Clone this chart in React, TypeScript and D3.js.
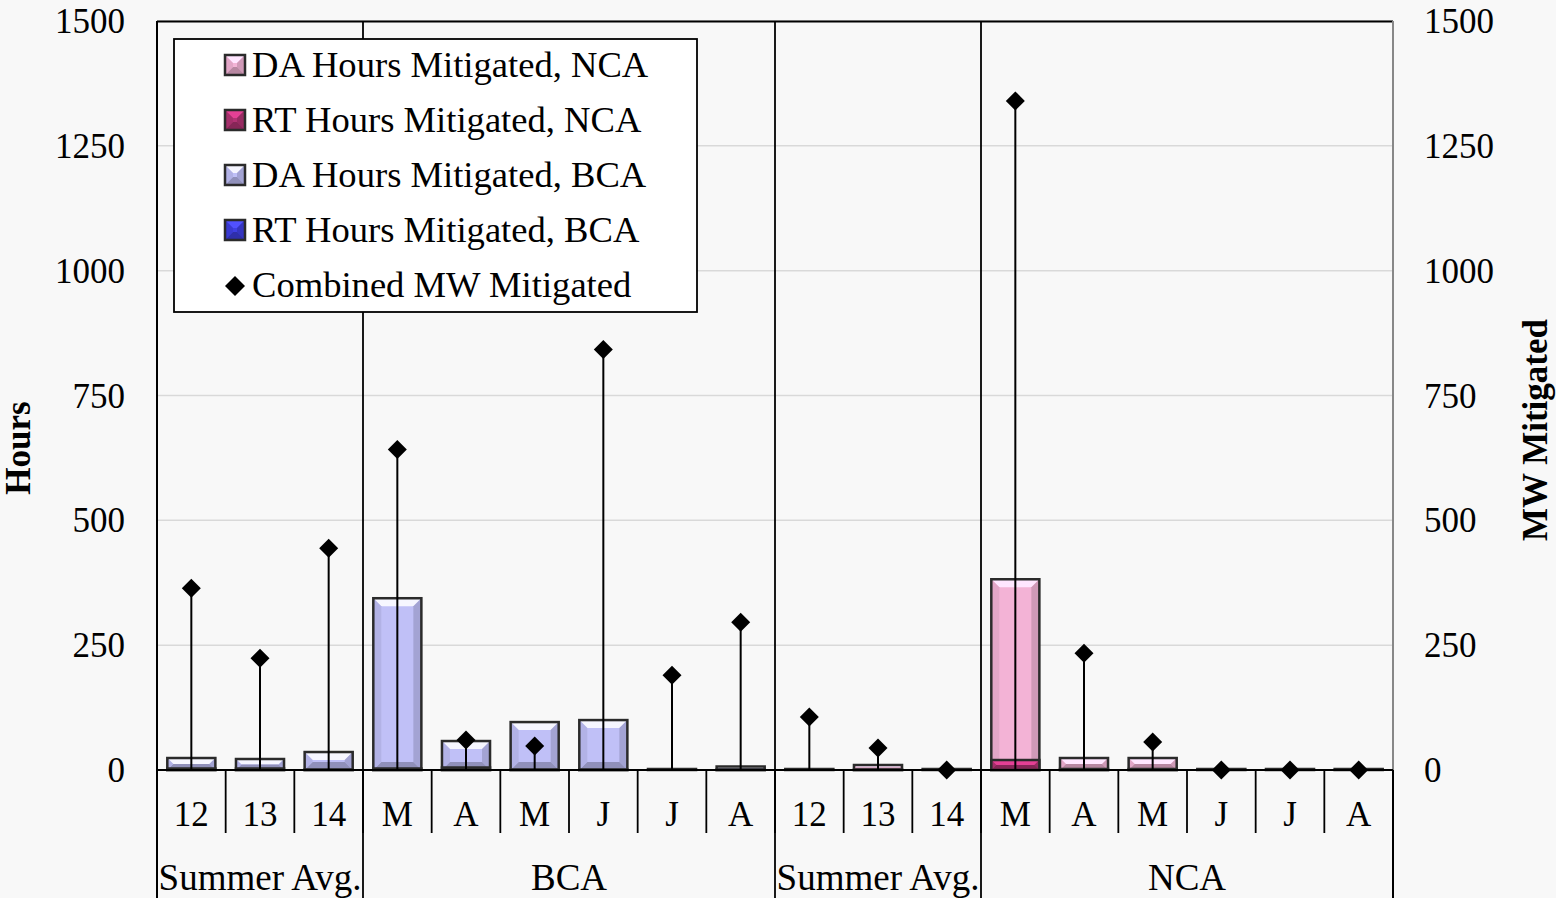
import React from "react";
import * as d3 from "d3";

// Category labels along the lower axis (two groups of three summer averages, two of six months)
const categories = ["12", "13", "14", "M", "A", "M", "J", "J", "A", "12", "13", "14", "M", "A", "M", "J", "J", "A"];
const groups = [
  { label: "Summer Avg.", span: 3 },
  { label: "BCA", span: 6 },
  { label: "Summer Avg.", span: 3 },
  { label: "NCA", span: 6 },
];

// Hours mitigated (left axis)
const daNCA = [0, 0, 0, 0, 0, 0, 0, 0, 0, 2, 10, 2, 382, 24, 24, 2, 2, 2];
const rtNCA = [0, 0, 0, 0, 0, 0, 0, 0, 0, 0, 1, 0, 20, 2, 2, 0, 0, 0];
const daBCA = [24, 22, 36, 344, 58, 96, 100, 2, 7, 0, 0, 0, 0, 0, 0, 0, 0, 0];
const rtBCA = [3, 3, 1, 3, 5, 1, 1, 0, 1, 0, 0, 0, 0, 0, 0, 0, 0, 0];

// Combined MW mitigated (right axis)
const mwMitigated = [364, 224, 444, 642, 60, 48, 842, 190, 296, 106, 44, 0, 1340, 234, 56, 0, 0, 0];

const hourTicks = [0, 250, 500, 750, 1000, 1250, 1500];
const mwTicks = [0, 250, 500, 750, 1000, 1250, 1500];

const seriesInfo = [
  { name: "DA Hours Mitigated, NCA", color: "#f3b3d6" },
  { name: "RT Hours Mitigated, NCA", color: "#b23274" },
  { name: "DA Hours Mitigated, BCA", color: "#c0c0f7" },
  { name: "RT Hours Mitigated, BCA", color: "#3f3fe2" },
];

const W = 1556;
const H = 898;
const left = 157;
const right = 1393;
const top = 21;
const bottom = 770;
const FONT = "'Liberation Serif', 'Times New Roman', serif";

function BevelBar({ x, y, w, h, color }: { x: number; y: number; w: number; h: number; color: string }) {
  if (h <= 0) return null;
  const b = Math.min(8, h / 2, w / 2);
  const light = d3.color(color)!.brighter(0.7).formatHex();
  const dark = d3.color(color)!.darker(0.8).formatHex();
  const mid = d3.color(color)!.darker(0.3).formatHex();
  const pts = (arr: number[][]) => arr.map((p) => p.join(",")).join(" ");
  return (
    <g>
      <rect x={x} y={y} width={w} height={h} fill={color} />
      <polygon points={pts([[x, y], [x + w, y], [x + w - b, y + b], [x + b, y + b]])} fill={light} />
      <polygon points={pts([[x, y + h], [x + w, y + h], [x + w - b, y + h - b], [x + b, y + h - b]])} fill={dark} />
      <polygon points={pts([[x, y], [x + b, y + b], [x + b, y + h - b], [x, y + h]])} fill={mid} opacity={0.7} />
      <polygon points={pts([[x + w, y], [x + w - b, y + b], [x + w - b, y + h - b], [x + w, y + h]])} fill={dark} opacity={0.6} />
      <rect x={x} y={y} width={w} height={h} fill="none" stroke="#2b2b2b" strokeWidth={2.5} />
    </g>
  );
}

export default function App() {
  const x = d3.scaleBand<number>().domain(d3.range(categories.length)).range([left, right]).paddingInner(0.3).paddingOuter(0.15);
  const step = (right - left) / categories.length;
  const yH = d3.scaleLinear().domain([0, 1500]).range([bottom, top]);
  const yMW = d3.scaleLinear().domain([0, 1500]).range([bottom, top]);
  const bw = x.bandwidth();
  const cx = (i: number) => left + step * (i + 0.5);
  const bx = (i: number) => cx(i) - bw / 2;

  const barSets = [
    { values: daNCA, color: seriesInfo[0].color },
    { values: daBCA, color: seriesInfo[2].color },
    { values: rtNCA, color: seriesInfo[1].color },
    { values: rtBCA, color: seriesInfo[3].color },
  ];

  // group boundaries
  const boundaries: number[] = [];
  let acc = 0;
  groups.forEach((g) => {
    acc += g.span;
    boundaries.push(acc);
  });

  const diamond = (px: number, py: number, r: number) => `M${px},${py - r}L${px + r},${py}L${px},${py + r}L${px - r},${py}Z`;

  const legendX = 174;
  const legendY = 39;
  const legendRows = [...seriesInfo.map((s) => ({ ...s, diamond: false })), { name: "Combined MW Mitigated", color: "#000", diamond: true }];

  return (
    <svg width={W} height={H} style={{ position: "absolute", left: 0, top: 0, display: "block" }} fontFamily={FONT}>
      <rect x={0} y={0} width={W} height={H} fill="#f8f8f8" />

      {/* gridlines */}
      {hourTicks.map((t) => (
        <line key={t} x1={left} x2={right} y1={yH(t)} y2={yH(t)} stroke="#d9d9d9" strokeWidth={1.5} />
      ))}

      {/* bars */}
      {barSets.map((s, si) =>
        s.values.map((v, i) =>
          v > 0 ? <BevelBar key={`${si}-${i}`} x={bx(i)} y={yH(v)} w={bw} h={yH(0) - yH(v)} color={s.color} /> : null
        )
      )}

      {/* drop lines and diamonds */}
      {mwMitigated.map((v, i) => (
        <g key={`mw${i}`}>
          <line x1={cx(i)} x2={cx(i)} y1={yMW(v)} y2={yMW(0)} stroke="#000" strokeWidth={2} />
          <path d={diamond(cx(i), yMW(v), 9.5)} fill="#000" />
        </g>
      ))}

      {/* frame */}
      <line x1={left} x2={right} y1={top + 0.5} y2={top + 0.5} stroke="#000" strokeWidth={2} />
      <line x1={right} x2={right} y1={top} y2={bottom} stroke="#888" strokeWidth={2} />
      <line x1={right} x2={right} y1={bottom} y2={H} stroke="#000" strokeWidth={2} />
      <line x1={left} x2={left} y1={top} y2={H} stroke="#000" strokeWidth={2} />
      <line x1={left} x2={right} y1={bottom} y2={bottom} stroke="#000" strokeWidth={2} />

      {/* category separators */}
      {d3.range(1, categories.length).map((i) => (
        <line key={`sep${i}`} x1={left + step * i} x2={left + step * i} y1={bottom} y2={833} stroke="#000" strokeWidth={1.8} />
      ))}
      {/* group separators */}
      {boundaries.slice(0, -1).map((b) => (
        <line key={`gb${b}`} x1={left + step * b} x2={left + step * b} y1={top} y2={H} stroke="#000" strokeWidth={1.8} />
      ))}

      {/* category labels */}
      {categories.map((c, i) => (
        <text key={`cat${i}`} x={cx(i)} y={826} textAnchor="middle" fontSize={35} fill="#000">
          {c}
        </text>
      ))}
      {/* group labels */}
      {groups.map((g, gi) => {
        const start = gi === 0 ? 0 : boundaries[gi - 1];
        const mid = left + step * (start + g.span / 2);
        return (
          <text key={`g${gi}`} x={mid} y={890} textAnchor="middle" fontSize={37} fill="#000">
            {g.label}
          </text>
        );
      })}

      {/* left axis */}
      {hourTicks.map((t) => (
        <text key={`lt${t}`} x={125} y={yH(t) + 12} textAnchor="end" fontSize={35} fill="#000">
          {t}
        </text>
      ))}
      {/* right axis */}
      {mwTicks.map((t) => (
        <text key={`rt${t}`} x={1424} y={yMW(t) + 12} textAnchor="start" fontSize={35} fill="#000">
          {t}
        </text>
      ))}

      <text transform={`translate(30,${448}) rotate(-90)`} textAnchor="middle" fontSize={35} fontWeight="bold" fill="#000">
        Hours
      </text>
      <text transform={`translate(1547,${430}) rotate(-90)`} textAnchor="middle" fontSize={35} fontWeight="bold" fill="#000">
        MW Mitigated
      </text>

      {/* legend */}
      <rect x={legendX} y={legendY} width={523} height={273} fill="#fff" stroke="#000" strokeWidth={1.8} />
      {legendRows.map((r, i) => {
        const ly = 65 + i * 55;
        return (
          <g key={`leg${i}`}>
            {r.diamond ? (
              <path d={diamond(235, ly + 1, 10)} fill="#000" />
            ) : (
              <BevelBar x={225} y={ly - 10} w={20} h={20} color={r.color} />
            )}
            <text x={252} y={ly + 12} fontSize={36.6} fill="#000">
              {r.name}
            </text>
          </g>
        );
      })}
    </svg>
  );
}
